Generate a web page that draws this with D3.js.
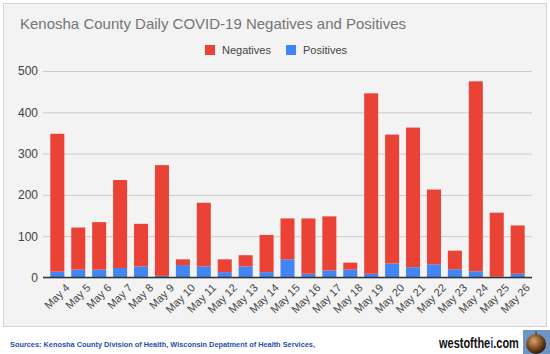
<!DOCTYPE html>
<html>
<head>
<meta charset="utf-8">
<script src="https://cdn.jsdelivr.net/npm/d3@7"></script>
<style>
  body { margin: 0; background: #fff; }
  text { font-family: Arial, "Liberation Sans", sans-serif; }
</style>
</head>
<body>
<div id="chart"></div>
<script>
// data
let days = ["May 4","May 5","May 6","May 7","May 8","May 9","May 10","May 11","May 12","May 13","May 14","May 15",
            "May 16","May 17","May 18","May 19","May 20","May 21","May 22","May 23","May 24","May 25","May 26"]
let positives = [14,19,19,23,27,4,30,27,13,27,13,44,9,17,19,9,34,25,32,20,15,2,9]
let negatives = [334,102,115,213,103,268,14,154,31,27,90,99,134,131,17,437,312,338,181,45,460,155,117]
let yTicks = [0,100,200,300,400,500]
let seriesNames = ["Negatives","Positives"]
let colors = {Negatives: "#ea4335", Positives: "#4285f4"}

let width = 550, height = 354
let plotLeft = 43, plotRight = 532, plotTop = 71, plotBottom = 277.5

let svg = d3.select("#chart").append("svg")
  .attr("width", width).attr("height", height)

// card background
svg.append("rect")
  .attr("x", 3.5).attr("y", 3.5).attr("width", 543).attr("height", 323)
  .attr("fill", "#f3f3f3").attr("stroke", "#d4d4d4")

// title
svg.append("text")
  .attr("x", 20).attr("y", 29)
  .attr("font-size", 15).attr("fill", "#757575")
  .text("Kenosha County Daily COVID-19 Negatives and Positives")

// scales
let xScale = d3.scaleBand().domain(days).range([plotLeft, plotRight]).paddingInner(0.33).paddingOuter(0.35)
let yScale = d3.scaleLinear().domain([0, 500]).range([plotBottom, plotTop])

// gridlines + y labels
let yAx = svg.append("g").attr("transform", `translate(${plotLeft},0)`)
  .call(d3.axisLeft(yScale).tickValues(yTicks).tickSize(-(plotRight - plotLeft)).tickPadding(5))
yAx.select(".domain").remove()
yAx.selectAll(".tick line").attr("stroke", "#cccccc")
yAx.selectAll(".tick text").attr("font-size", 12).attr("fill", "#444").attr("font-family", "Arial, 'Liberation Sans', sans-serif")

// stacked bars (positives at bottom)
let rows = days.map((d, i) => ({day: d, Positives: positives[i], Negatives: negatives[i]}))
let stack = d3.stack().keys(["Positives", "Negatives"])(rows)

svg.append("g").selectAll("g").data(stack).enter().append("g")
  .attr("fill", s => colors[s.key])
  .selectAll("rect").data(s => s).enter().append("rect")
  .attr("x", d => xScale(d.data.day))
  .attr("y", d => yScale(d[1]))
  .attr("width", xScale.bandwidth())
  .attr("height", d => yScale(d[0]) - yScale(d[1]))

// x axis
let xAx = svg.append("g").attr("transform", `translate(0,${plotBottom})`)
  .call(d3.axisBottom(xScale).tickSize(0).tickPadding(6))
xAx.select(".domain").attr("stroke", "#333").attr("stroke-width", 1.6)
  .attr("d", `M${plotLeft},0H${plotRight}`)
xAx.selectAll(".tick text")
  .attr("font-size", 11).attr("fill", "#444").attr("font-family", "Arial, 'Liberation Sans', sans-serif")
  .attr("text-anchor", "end")
  .attr("transform", "translate(6,4) rotate(-45)")
  .attr("dy", "0.35em")

// legend
let legend = svg.append("g").attr("transform", "translate(205,45)")
let lx = [0, 81]
seriesNames.forEach((n, i) => {
  legend.append("rect").attr("x", lx[i]).attr("y", 0).attr("width", 10).attr("height", 10).attr("fill", colors[n])
  legend.append("text").attr("x", lx[i] + 17).attr("y", 9).attr("font-size", 11).attr("fill", "#444").text(n)
})

// footer
svg.append("text")
  .attr("x", 10).attr("y", 347)
  .attr("font-size", 8).attr("font-weight", "bold").attr("fill", "#1f4fa8")
  .attr("font-family", "Verdana, 'DejaVu Sans', sans-serif")
  .attr("textLength", 305).attr("lengthAdjust", "spacingAndGlyphs")
  .text("Sources: Kenosha County Division of Health, Wisconsin Depatment of Health Services,")

// site name, squeezed to the width it has in the picture
let logoG = svg.append("g")
let logo = logoG.append("text")
  .attr("x", 0).attr("y", 0)
  .attr("font-size", 15).attr("font-weight", "bold").attr("fill", "#111")
  .attr("font-family", "'Liberation Serif', 'DejaVu Serif', serif")
logo.append("tspan").text("westofthe")
logo.append("tspan").attr("fill", "#2b4aa8").text("i")
logo.append("tspan").text(".com")
let logoW = logo.node().getComputedTextLength()
logoG.attr("transform", `translate(439,348) scale(${80 / logoW},1)`)

// logo picture
let defs = svg.append("defs")
let grad = defs.append("radialGradient").attr("id", "ball").attr("cx", "40%").attr("cy", "35%").attr("r", "65%")
grad.append("stop").attr("offset", "0%").attr("stop-color", "#d9a56a")
grad.append("stop").attr("offset", "60%").attr("stop-color", "#7a4a22")
grad.append("stop").attr("offset", "100%").attr("stop-color", "#2e1a0c")
svg.append("rect").attr("x", 523).attr("y", 330).attr("width", 27).attr("height", 24).attr("fill", "#6f94c4")
svg.append("circle").attr("cx", 536).attr("cy", 344).attr("r", 10).attr("fill", "url(#ball)")
svg.append("line").attr("x1", 536).attr("x2", 536).attr("y1", 331).attr("y2", 335).attr("stroke", "#333")
</script>
</body>
</html>
